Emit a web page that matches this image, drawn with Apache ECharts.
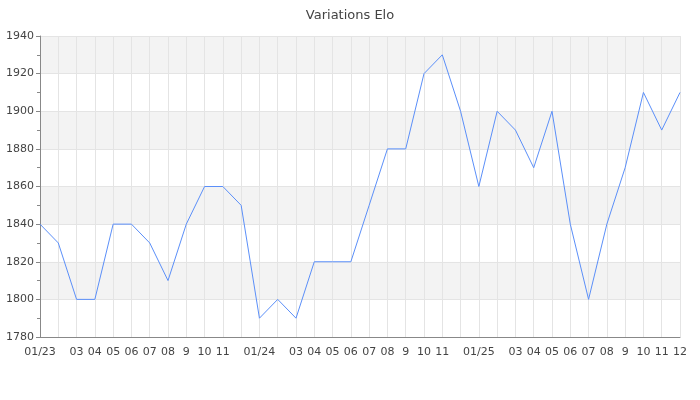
<!DOCTYPE html>
<html>
<head>
<meta charset="utf-8">
<script src="https://cdn.jsdelivr.net/npm/echarts@6/dist/echarts.min.js"></script>
<style>html,body{margin:0;padding:0;background:#fff}#c{width:700px;height:400px}</style>
</head>
<body>
<div id="c"></div>
<script>
var categories = ['01/23','02/23','03/23','04/23','05/23','06/23','07/23','08/23','09/23','10/23','11/23','12/23',
                  '01/24','02/24','03/24','04/24','05/24','06/24','07/24','08/24','09/24','10/24','11/24','12/24',
                  '01/25','02/25','03/25','04/25','05/25','06/25','07/25','08/25','09/25','10/25','11/25','12/25'];
var tickLabels = ['01/23','','03','04','05','06','07','08','9','10','11','',
                  '01/24','','03','04','05','06','07','08','9','10','11','',
                  '01/25','','03','04','05','06','07','08','9','10','11','12'];
var elo = [1840,1830,1800,1800,1840,1840,1830,1810,1840,1860,1860,1850,
           1790,1800,1790,1820,1820,1820,1850,1880,1880,1920,1930,1900,
           1860,1900,1890,1870,1900,1840,1800,1840,1870,1910,1890,1910];
var yTicks = {min:1780, max:1940, step:20};

var chart = echarts.init(document.getElementById('c'), null, {renderer:'canvas'});
chart.setOption({
  animation:false,
  textStyle:{fontFamily:'DejaVu Sans'},
  title:{text:'Variations Elo', left:'center', top:4,
    textStyle:{fontFamily:'DejaVu Sans', fontSize:13, fontWeight:'normal', color:'#444'}},
  grid:{left:40, right:20, top:36, bottom:63, containLabel:false},
  xAxis:{
    type:'category', data:categories, boundaryGap:false,
    axisLine:{show:true, lineStyle:{color:'#888'}},
    axisTick:{show:false},
    axisLabel:{interval:0, color:'#444', fontSize:11, margin:10,
      formatter:function(v, i){ return tickLabels[i]; }},
    splitLine:{show:true, lineStyle:{color:'#e4e4e4', width:1}}
  },
  yAxis:{
    type:'value', min:yTicks.min, max:yTicks.max, interval:yTicks.step,
    axisLine:{show:true, lineStyle:{color:'#888'}},
    axisTick:{show:true, length:4, lineStyle:{color:'#888'}},
    minorTick:{show:true, splitNumber:2, length:3, lineStyle:{color:'#888'}},
    axisLabel:{color:'#444', fontSize:11, margin:6,
      formatter:function(v){ return String(v); }},
    splitLine:{show:true, lineStyle:{color:'#e4e4e4', width:1}},
    splitArea:{show:true, areaStyle:{color:['#ffffff','#f3f3f3']}}
  },
  series:[{
    type:'line', data:elo, showSymbol:false, symbol:'none',
    lineStyle:{color:'#5b8ff9', width:1},
    itemStyle:{color:'#5b8ff9'}
  }]
});
</script>
</body>
</html>
